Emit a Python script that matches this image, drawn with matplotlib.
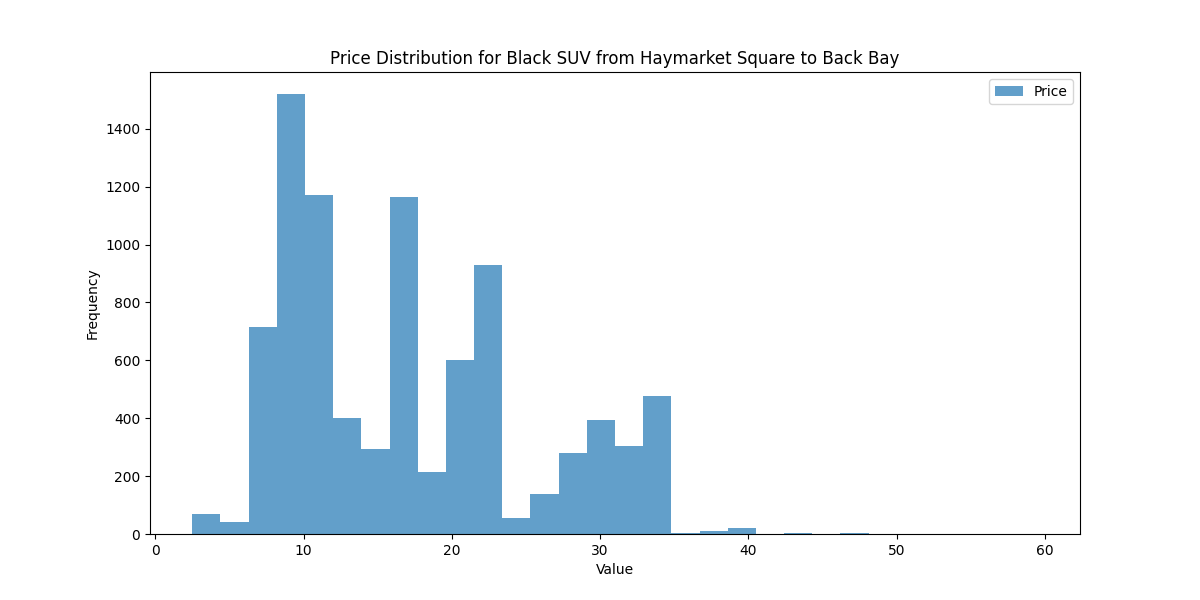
import numpy as np
import matplotlib
matplotlib.use("Agg")
import matplotlib.pyplot as plt

bin_start = 2.5
bin_end = 59.5
n_bins = 30
counts = [70, 40, 715, 1520, 1170, 400, 295, 1165, 215, 600,
          930, 55, 138, 280, 393, 303, 478, 5, 12, 20,
          0, 2, 0, 2, 0, 0, 0, 0, 0, 1]

edges = np.linspace(bin_start, bin_end, n_bins + 1)
centers = (edges[:-1] + edges[1:]) / 2

fig, ax = plt.subplots(figsize=(12, 6), dpi=100)
ax.hist(centers, bins=edges, weights=counts, alpha=0.7, label='Price')
ax.set_title('Price Distribution for Black SUV from Haymarket Square to Back Bay')
ax.set_xlabel('Value')
ax.set_ylabel('Frequency')
ax.legend()
fig.savefig('out.png')
